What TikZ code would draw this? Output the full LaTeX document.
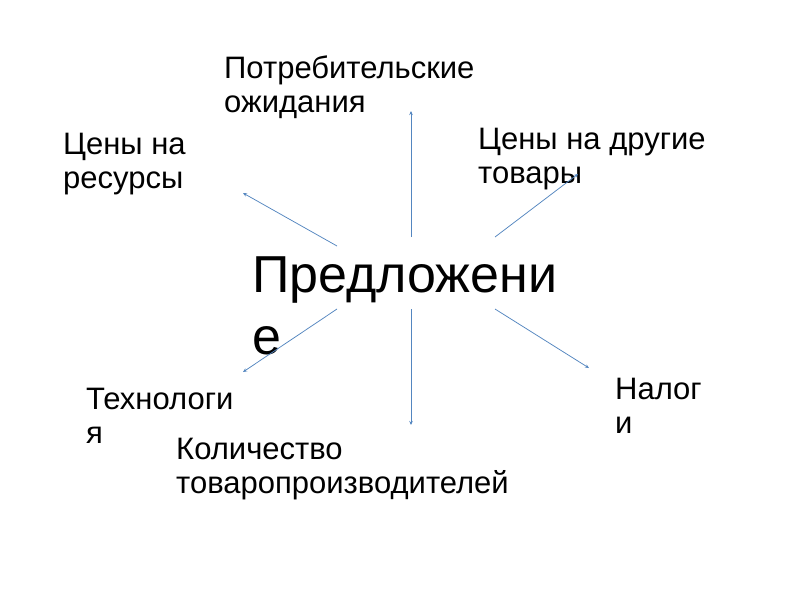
\documentclass[tikz,border=0pt]{standalone}
\usepackage{fontspec}
\setmainfont{Liberation Sans}
\usetikzlibrary{arrows.meta}
\definecolor{arrowblue}{RGB}{84,134,192}
\tikzset{
  lbl/.style={anchor=base west, inner sep=0pt, align=left, font=\fontsize{31}{34}\selectfont},
  big/.style={anchor=base west, inner sep=0pt, align=left, font=\fontsize{52}{62}\selectfont},
  conn/.style={draw=arrowblue, line width=0.75pt, -{Stealth[length=4pt,width=3.5pt]}}
}
\begin{document}
\begin{tikzpicture}[x=1pt,y=-1pt]
\useasboundingbox (0,0) rectangle (800,600);
\fill[white] (0,0) rectangle (800,600);
\node[big] (sup) at (252,354) {Предложени\\е};
\node[lbl] (exp) at (224,112) {Потребительские\\ожидания};
\node[lbl] (res) at (63,188) {Цены на\\ресурсы};
\node[lbl] (oth) at (478,183) {Цены на другие\\товары};
\node[lbl] (tec) at (86,443) {Технологи\\я};
\node[lbl] (num) at (176,493) {Количество\\товаропроизводителей};
\node[lbl] (tax) at (615,433) {Налог\\и};
\coordinate (sU) at (411,237); \coordinate (eU) at (411,111);
\coordinate (sUL) at (337,246); \coordinate (eUL) at (243,193);
\coordinate (sUR) at (495,237); \coordinate (eUR) at (578,174);
\coordinate (sLL) at (337,309); \coordinate (eLL) at (243,372);
\coordinate (sD) at (411,309); \coordinate (eD) at (411,425);
\coordinate (sLR) at (495,309); \coordinate (eLR) at (589,368);
\draw[conn] (sU) -- (eU);
\draw[conn] (sUL) -- (eUL);
\draw[conn] (sUR) -- (eUR);
\draw[conn] (sLL) -- (eLL);
\draw[conn] (sD) -- (eD);
\draw[conn] (sLR) -- (eLR);
\end{tikzpicture}
\end{document}
